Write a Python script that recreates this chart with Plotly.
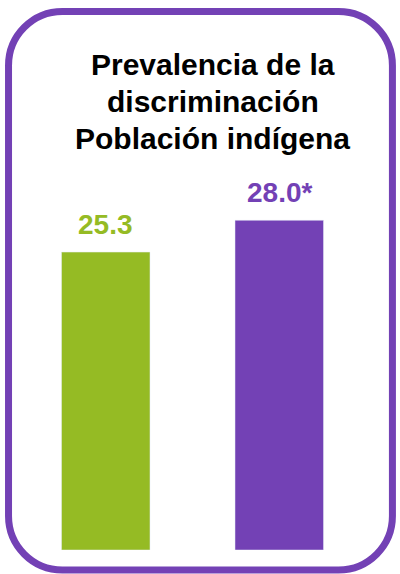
import plotly.graph_objects as go

# data
categories = ["Población total", "Población indígena"]
values = [25.3, 28.0]
labels = ["25.3", "28.0*"]
colors = ["#95BB24", "#7341B5"]
title_lines = ["Prevalencia de la", "discriminación", "Población indígena"]

W, H = 400, 574
PLOT_L, PLOT_R = 18.5, 366.5
PLOT_T, PLOT_B = 78.6, 550.0


def px_to_paper(x, y):
    return (x - PLOT_L) / (PLOT_R - PLOT_L), (PLOT_B - y) / (PLOT_B - PLOT_T)


def rounded_rect_path(x0, y0, x1, y1, r):
    k = 0.5523 * r
    pts = [
        ("M", [(x0 + r, y0)]),
        ("L", [(x1 - r, y0)]),
        ("C", [(x1 - r + k, y0), (x1, y0 + r - k), (x1, y0 + r)]),
        ("L", [(x1, y1 - r)]),
        ("C", [(x1, y1 - r + k), (x1 - r + k, y1), (x1 - r, y1)]),
        ("L", [(x0 + r, y1)]),
        ("C", [(x0 + r - k, y1), (x0, y1 - r + k), (x0, y1 - r)]),
        ("L", [(x0, y0 + r)]),
        ("C", [(x0, y0 + r - k), (x0 + r - k, y0), (x0 + r, y0)]),
    ]
    out = []
    for cmd, coords in pts:
        s = " ".join("%.5f,%.5f" % px_to_paper(x, y) for x, y in coords)
        out.append(cmd + s)
    return " ".join(out) + " Z"


fig = go.Figure(
    go.Bar(
        x=[0, 1],
        y=values,
        marker_color=colors,
        width=0.51,
        hoverinfo="skip",
    )
)

for i, (v, lab, c) in enumerate(zip(values, labels, colors)):
    fig.add_annotation(
        x=i,
        y=v,
        text="<b>%s</b>" % lab,
        showarrow=False,
        yanchor="bottom",
        yshift=10,
        font=dict(family="Liberation Sans, Arial", size=28, color=c),
    )

# title, one annotation per line (tighter line spacing than plotly's default)
for j, line in enumerate(title_lines):
    fig.add_annotation(
        text="<b>%s</b>" % line,
        xref="paper",
        yref="paper",
        x=px_to_paper(213, 0)[0],
        y=px_to_paper(0, 64 + 37 * j)[1],
        xanchor="center",
        yanchor="middle",
        showarrow=False,
        font=dict(family="Liberation Sans, Arial", size=30, color="black"),
    )

fig.add_shape(
    type="path",
    xref="paper",
    yref="paper",
    path=rounded_rect_path(8, 11, 393, 570, 54),
    line=dict(color="#7341B5", width=7),
    layer="above",
)

fig.update_layout(
    width=W,
    height=H,
    margin=dict(l=PLOT_L, r=W - PLOT_R, t=PLOT_T, b=H - PLOT_B),
    plot_bgcolor="white",
    paper_bgcolor="white",
    showlegend=False,
    xaxis=dict(range=[-0.5, 1.5], visible=False, fixedrange=True),
    yaxis=dict(range=[0, 40], visible=False, fixedrange=True),
)

fig.write_html(
    "out.html",
    config={"displayModeBar": False},
    post_script="document.body.style.margin='0px';",
)
